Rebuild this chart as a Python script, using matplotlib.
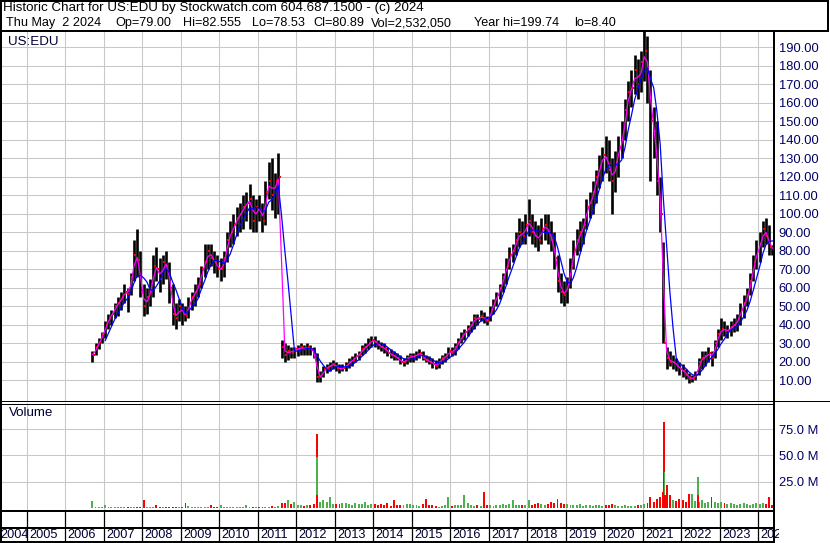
import numpy as np
import pandas as pd
import matplotlib
matplotlib.use("Agg")
import matplotlib.pyplot as plt
from matplotlib.ticker import FormatStrFormatter

plt.rcParams['font.family'] = ['Liberation Sans', 'DejaVu Sans']

# ----------------------------
# Monthly bars, Sep 2006 .. May 2024 (not split adjusted)
# ----------------------------
first_month = "2006-09-01"

price_hi = [
    26, 30, 33, 36,                                              # 2006
    42, 46, 48, 52, 55, 58, 62, 60, 68, 86, 92, 80,              # 2007
    62, 60, 65, 78, 82, 76, 78, 80, 74, 62, 52, 54,              # 2008
    52, 50, 55, 58, 62, 66, 72, 84, 84, 84, 80, 78,              # 2009
    76, 80, 90, 96, 100, 104, 106, 110, 112, 116, 110, 108,      # 2010
    110, 106, 118, 128, 130, 122, 133, 32, 30, 29, 28, 28,       # 2011
    29, 30, 29, 30, 29, 28, 25, 15, 18, 19, 20, 21,              # 2012
    20, 19, 19, 20, 22, 23, 25, 26, 29, 30, 33, 34,              # 2013
    34, 32, 31, 30, 28, 27, 26, 25, 24, 22, 24, 25,              # 2014
    25, 26, 27, 26, 24, 23, 22, 21, 22, 24, 25, 28,              # 2015
    28, 30, 33, 36, 38, 40, 42, 46, 46, 48, 47, 45,              # 2016
    50, 54, 58, 62, 68, 76, 82, 84, 90, 98, 96, 100,             # 2017
    108, 100, 96, 94, 98, 100, 100, 96, 90, 78, 68, 64,          # 2018
    66, 76, 86, 92, 96, 98, 108, 112, 118, 124, 132, 136,        # 2019
    142, 140, 130, 134, 142, 150, 162, 172, 178, 186, 184, 188,  # 2020
    199, 196, 178, 158, 150, 120, 85, 28, 26, 24, 22, 20,        # 2021
    19, 16, 14, 13, 15, 22, 26, 26, 28, 26, 32, 38,              # 2022
    44, 42, 40, 42, 44, 46, 52, 56, 60, 68, 78, 86,              # 2023
    90, 96, 98, 94, 83,                                          # 2024
]
price_lo = [
    20, 24, 27, 30,
    33, 38, 40, 44, 45, 48, 52, 47, 56, 64, 66, 55,
    45, 46, 50, 55, 64, 58, 62, 65, 52, 40, 38, 42,
    40, 42, 44, 48, 50, 55, 60, 66, 70, 72, 68, 66,
    64, 66, 74, 82, 84, 88, 90, 92, 96, 92, 90, 90,
    96, 90, 94, 108, 102, 98, 100, 22, 20, 21, 22, 22,
    23, 24, 24, 24, 24, 22, 9, 9, 12, 14, 15, 16,
    15, 14, 15, 15, 17, 18, 20, 21, 24, 25, 27, 28,
    28, 27, 26, 25, 23, 22, 21, 21, 19, 18, 19, 20,
    20, 21, 22, 21, 20, 19, 17, 16, 17, 19, 20, 22,
    23, 24, 27, 30, 32, 34, 36, 38, 40, 42, 41, 40,
    42, 46, 50, 54, 58, 62, 70, 74, 78, 82, 84, 84,
    88, 84, 82, 80, 84, 86, 84, 80, 70, 58, 52, 50,
    52, 60, 70, 78, 80, 84, 92, 98, 100, 106, 114, 118,
    122, 118, 100, 112, 120, 130, 140, 150, 158, 165, 162, 166,
    172, 160, 118, 130, 110, 90, 30, 16, 18, 16, 15, 13,
    12, 11, 8.4, 9, 10, 13, 16, 18, 20, 18, 22, 28,
    32, 34, 33, 34, 36, 37, 40, 44, 50, 56, 64, 70,
    74, 82, 84, 78, 78,
]
price_cl = [
    24, 28, 31, 35,
    40, 44, 46, 50, 52, 55, 58, 57, 66, 78, 75, 58,
    50, 55, 58, 72, 70, 65, 74, 72, 60, 46, 44, 50,
    46, 45, 52, 55, 58, 62, 70, 74, 80, 76, 74, 70,
    70, 76, 86, 90, 94, 98, 100, 104, 106, 108, 96, 104,
    102, 96, 112, 118, 110, 118, 120, 28, 24, 26, 25, 27,
    27, 28, 27, 28, 27, 24, 12, 12, 16, 17, 18, 19,
    17, 16, 17, 18, 20, 21, 23, 24, 27, 28, 30, 32,
    31, 29, 28, 27, 25, 24, 23, 22, 20, 20, 22, 23,
    23, 24, 25, 22, 21, 20, 19, 18, 20, 22, 23, 26,
    25, 28, 31, 34, 36, 38, 40, 44, 43, 45, 43, 42,
    48, 52, 56, 60, 66, 72, 78, 80, 86, 90, 88, 94,
    96, 90, 88, 86, 92, 94, 90, 86, 76, 64, 58, 56,
    62, 72, 80, 86, 90, 94, 104, 106, 112, 120, 126, 132,
    130, 124, 118, 128, 136, 140, 156, 166, 168, 178, 170, 182,
    188, 176, 150, 145, 118, 100, 30, 22, 20, 20, 18, 16,
    15, 13, 11, 11, 13, 20, 22, 23, 25, 22, 30, 35,
    38, 37, 37, 39, 40, 43, 48, 52, 56, 64, 74, 80,
    84, 92, 88, 82, 81,
]
# tallest visible volume bar per month, millions of shares
volume_m = [
    6.2, 0.8, 0.5, 0.6,
    3.0, 0.6, 0.8, 1.0, 0.6, 0.5, 1.0, 0.8, 1.0, 1.2, 1.0, 1.2,
    7.5, 1.0, 1.2, 0.8, 3.0, 1.0, 0.8, 1.2, 0.8, 1.0, 0.8, 1.0,
    1.2, 5.0, 2.0, 1.0, 0.8, 1.0, 1.2, 0.6, 1.0, 2.5, 1.0, 1.0,
    3.0, 0.6, 1.0, 0.8, 0.6, 1.0, 1.0, 0.8, 2.5, 1.0, 1.0, 0.8,
    1.0, 0.8, 1.2, 1.0, 1.5, 1.2, 2.0, 4.5, 5.0, 7.5, 3.5, 6.0,
    3.0, 2.5, 2.0, 3.0, 2.5, 4.0, 6.0, 6.0, 8.0, 6.0, 10.0, 4.0,
    4.0, 3.5, 5.0, 4.5, 4.0, 3.0, 5.0, 4.0, 3.5, 6.0, 3.0, 4.0,
    3.5, 3.0, 4.0, 2.5, 5.0, 2.0, 8.0, 3.0, 3.0, 2.5, 3.5, 4.0,
    3.0, 2.5, 2.0, 4.0, 8.5, 3.0, 2.5, 1.5, 1.0, 2.0, 2.5, 10.6,
    2.0, 2.5, 3.0, 3.0, 12.5, 5.0, 2.5, 2.0, 3.0, 2.0, 15.0, 3.0,
    2.5, 2.0, 3.0, 2.5, 3.5, 2.5, 4.0, 7.5, 2.5, 3.0, 3.0, 3.0,
    7.5, 3.0, 3.5, 5.0, 4.0, 3.0, 4.0, 6.0, 4.5, 9.0, 5.0, 4.0,
    4.0, 3.0, 2.5, 3.0, 3.5, 2.0, 2.5, 3.0, 2.0, 3.0, 2.5, 2.0,
    2.5, 3.0, 4.0, 2.5, 2.0, 2.0, 3.0, 2.0, 1.5, 2.0, 2.5, 3.0,
    4.0, 5.0, 10.0, 6.0, 9.0, 10.0, 15.0, 22.0, 12.0, 8.0, 7.0, 9.0,
    8.0, 6.0, 13.0, 13.0, 7.0, 6.0, 8.0, 5.0, 6.0, 10.0, 6.0, 5.0,
    6.0, 5.0, 4.0, 5.0, 4.0, 3.0, 4.0, 5.0, 3.5, 3.0, 4.0, 5.0,
    4.0, 5.0, 4.0, 10.6, 2.5,
]
# single heavy days, drawn on top in this order
spike_dates = ["2012-07-18", "2012-07-19", "2012-07-20",
               "2021-07-23", "2021-07-26", "2021-07-27",
               "2022-06-10", "2022-06-13"]
spike_vols = [70.0, 48.5, 12.5, 81.8, 34.6, 12.0, 29.7, 12.5]
spike_up = [False, True, False, False, True, False, True, False]

header_1 = "Historic Chart for US:EDU by Stockwatch.com 604.687.1500 - (c) 2024"
header_2 = ["Thu May  2 2024", "Op=79.00", "Hi=82.555", "Lo=78.53",
            "Cl=80.89", "Vol=2,532,050", "Year hi=199.74", "lo=8.40"]
header_2_x = [6, 115, 183, 252, 313, 371, 474, 574]
year_labels = list(range(2004, 2025))


def frac_year(ts):
    ts = pd.DatetimeIndex(ts)
    days = np.where(ts.is_leap_year, 366, 365)
    return ts.year + (ts.dayofyear - 0.5) / days


months = pd.date_range(first_month, periods=len(price_cl), freq="MS") + pd.Timedelta(days=14)
t = frac_year(months)
cl = pd.Series(price_cl, dtype=float)
ma_fast = cl.rolling(2, min_periods=1).mean()
ma_slow = cl.rolling(5).mean()
vol_up = np.r_[True, np.diff(price_cl) >= 0]

# ----------------------------
# Layout helpers (pixels of the 830x543 picture)
# ----------------------------
W, H = 830, 543
fig = plt.figure(figsize=(W / 100, H / 100), dpi=100)


def frac(x0, y0, x1, y1):
    return [x0 / W, (H - y1) / H, (x1 - x0) / W, (y1 - y0) / H]


def px_year(x):
    return 2005 + (x - 26.7) / 38.5


GRID = '#c8c8c8'
NAVY = '#000066'
GREEN = '#4cb04c'
FS = 9.6

# ----------------------------
# Price panel
# ----------------------------
ax = fig.add_axes(frac(2, 31, 773, 401))
ax.set_xlim(px_year(2), px_year(773))
ax.set_ylim(-1.1, 198.9)
ax.set_xticks(np.arange(2005, 2025))
ax.set_yticks(np.arange(10, 200, 10))
ax.grid(True, color=GRID, lw=0.75)
ax.set_axisbelow(True)
ax.yaxis.set_major_formatter(FormatStrFormatter('%.2f'))
ax.tick_params(length=0, labelbottom=False)
ax.yaxis.set_tick_params(labelleft=False, labelright=True, pad=4,
                         labelsize=9.3, labelcolor=NAVY)
for s in ax.spines.values():
    s.set_visible(False)

ax.vlines(t, price_lo, price_hi, colors='black', lw=1.9)
ax.plot(t + 0.035, price_cl, 's', ms=1.8, mew=0, color='red')
ax.plot(t, ma_fast, color='#ff00ff', lw=0.9)
ax.plot(t, ma_slow, color='#0000ff', lw=0.9)

# ----------------------------
# Volume panel
# ----------------------------
axv = fig.add_axes(frac(2, 403, 773, 510))
axv.set_xlim(px_year(2), px_year(773))
axv.set_ylim(-1.9, 99.8)
axv.set_xticks(np.arange(2005, 2025))
axv.set_yticks([25, 50, 75])
axv.grid(True, color=GRID, lw=0.75)
axv.set_axisbelow(True)
axv.yaxis.set_major_formatter(FormatStrFormatter('%.1f M'))
axv.tick_params(length=0, labelbottom=False)
axv.yaxis.set_tick_params(labelleft=False, labelright=True, pad=4,
                          labelsize=9.3, labelcolor=NAVY)
for s in axv.spines.values():
    s.set_visible(False)

axv.bar(t, volume_m, width=0.05, color=np.where(vol_up, GREEN, 'red'), lw=0)
axv.bar(frac_year(spike_dates), spike_vols, width=0.05,
        color=np.where(spike_up, GREEN, 'red'), lw=0)

# ----------------------------
# Year rows under the chart
# ----------------------------
axl = fig.add_axes(frac(2, 510, 779, 541))
axl.set_xlim(px_year(2), px_year(779))
axl.set_ylim(541, 510)
axl.axis('off')
axl.vlines(np.arange(2005, 2025), 510, 541, colors='black', lw=0.9)
for yr in year_labels:
    x = max(yr + 2.5 / 38.5, px_year(0))
    axl.text(x, 534.5, str(yr), ha='left', va='center',
             fontsize=9.2, color='#000033', clip_on=True)

# ----------------------------
# Frame, header and captions
# ----------------------------
axo = fig.add_axes([0, 0, 1, 1], zorder=10)
axo.set_xlim(0, W)
axo.set_ylim(H, 0)
axo.axis('off')
axo.patch.set_visible(False)

frame = [  # (x0, y0, x1, y1, px width)
    (0, 1, 829, 1, 2), (0, 31, 829, 31, 2), (828, 0, 828, 31, 2),
    (1, 0, 1, 543, 2), (774, 31, 774, 543, 2),
    (0, 401, 830, 401, 1), (0, 403.5, 774, 403.5, 1),
    (0, 510.5, 774, 510.5, 2), (0, 527.5, 774, 527.5, 2), (0, 541.5, 774, 541.5, 2),
]
for x0, y0, x1, y1, w in frame:
    axo.plot([x0, x1], [y0, y1], color='black', lw=w * 0.72, solid_capstyle='butt')

axo.text(3, 8.5, header_1, va='center', fontsize=FS)
for s, x in zip(header_2, header_2_x):
    axo.text(x, 23, s, va='center', fontsize=9.1)
axo.text(8, 42, "US:EDU", va='center', fontsize=FS, color='#000033')
axo.text(9, 413, "Volume", va='center', fontsize=FS, color='#000033')

fig.savefig("out.png", dpi=100)
